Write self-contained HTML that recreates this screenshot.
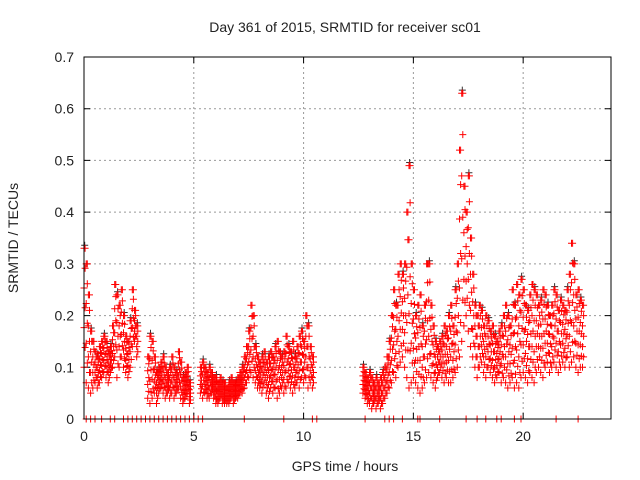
<!DOCTYPE html>
<html><head><meta charset="utf-8"><style>
body{margin:0;background:#fff}
svg{display:block;font-family:"Liberation Sans",sans-serif}
</style></head><body>
<svg id="chart" width="640" height="480" viewBox="0 0 640 480" xmlns="http://www.w3.org/2000/svg">
<text x="345" y="32" font-size="14" text-anchor="middle" fill="#222">Day 361 of 2015, SRMTID for receiver sc01</text>
<text x="345" y="471" font-size="14" text-anchor="middle" fill="#222">GPS time / hours</text>
<text transform="translate(18,238) rotate(-90)" font-size="14" text-anchor="middle" fill="#222">SRMTID / TECUs</text>
<g id="grid"></g>
<g id="ticks"></g>
<g id="marks"></g>
<rect x="84" y="57" width="527" height="362" fill="none" stroke="#000" stroke-width="1"/>
</svg>
<script>
const xTicks=[0,5,10,15,20];
const yTicks=[0,0.1,0.2,0.3,0.4,0.5,0.6,0.7];
const yTickLabels=["0","0.1","0.2","0.3","0.4","0.5","0.6","0.7"];
const seg1Start=0.0, seg2Start=12.7, step=0.1;
const hi1=[0.33,0.30,0.24,0.17,0.15,0.13,0.12,0.14,0.15,0.16,
0.15,0.13,0.14,0.18,0.26,0.24,0.22,0.25,0.20,0.16,
0.15,0.19,0.25,0.21,0.18,null,null,null,null,0.12,
0.16,0.15,0.12,0.09,0.10,0.11,0.12,0.10,0.09,0.10,
0.12,0.10,0.09,0.13,0.11,0.08,0.09,0.10,0.07,null,
null,null,null,0.10,0.11,0.10,0.09,0.10,0.09,0.08,
0.08,0.07,0.08,0.07,0.07,0.06,0.07,0.08,0.07,0.07,
0.08,0.09,0.10,0.12,0.14,0.17,0.22,0.20,0.14,0.12,
0.11,0.12,0.13,0.11,0.12,0.13,0.12,0.14,0.15,0.13,
0.12,0.13,0.16,0.14,0.13,0.15,0.12,0.14,0.16,0.17,
0.15,0.20,0.18,0.14,0.12];
const lo1=[0.10,0.07,0.06,0.05,0.06,0.07,0.06,0.07,0.08,0.09,
0.08,0.07,0.09,0.10,0.12,0.08,0.10,0.12,0.10,0.09,
0.08,0.10,0.14,0.15,0.12,null,null,null,null,0.04,
0.03,0.04,0.05,0.03,0.05,0.06,0.05,0.04,0.05,0.04,
0.05,0.04,0.05,0.06,0.04,0.03,0.04,0.05,0.03,null,
null,null,null,0.05,0.04,0.05,0.04,0.04,0.05,0.04,
0.03,0.03,0.04,0.03,0.03,0.03,0.03,0.04,0.03,0.04,
0.04,0.05,0.05,0.06,0.07,0.08,0.09,0.08,0.07,0.06,
0.06,0.05,0.07,0.05,0.04,0.06,0.05,0.06,0.04,0.05,
0.06,0.05,0.06,0.07,0.06,0.05,0.06,0.07,0.06,0.08,
0.07,0.08,0.06,0.07,0.06];
const hi2=[0.10,0.09,0.08,0.09,0.08,0.07,0.08,0.07,0.08,0.09,
0.10,0.12,0.15,0.20,0.25,0.22,0.28,0.30,0.28,0.30,
0.40,0.49,0.30,0.25,0.20,0.22,0.24,0.18,0.22,0.30,
0.30,0.22,0.18,0.15,0.14,0.15,0.16,0.18,0.17,0.20,
0.22,0.18,0.25,0.30,0.52,0.63,0.45,0.40,0.47,0.35,
0.28,0.22,0.20,0.22,0.21,0.18,0.20,0.19,0.17,0.18,
0.16,0.15,0.17,0.18,0.20,0.22,0.20,0.18,0.25,0.22,
0.26,0.24,0.27,0.25,0.22,0.21,0.24,0.26,0.25,0.24,
0.22,0.23,0.25,0.24,0.22,0.20,0.22,0.25,0.24,0.21,
0.23,0.22,0.21,0.25,0.28,0.34,0.30,0.24,0.25,0.23,0.22];
const lo2=[0.05,0.04,0.03,0.03,0.02,0.03,0.02,0.03,0.02,0.03,
0.04,0.05,0.06,0.07,0.09,0.08,0.10,0.11,0.12,0.10,
0.08,0.06,0.07,0.08,0.07,0.06,0.05,0.06,0.07,0.08,
0.09,0.08,0.07,0.06,0.08,0.09,0.08,0.07,0.08,0.07,
0.07,0.08,0.09,0.10,0.12,0.15,0.18,0.20,0.17,0.14,
0.12,0.10,0.08,0.10,0.11,0.09,0.08,0.10,0.09,0.08,
0.07,0.08,0.09,0.07,0.08,0.07,0.06,0.07,0.08,0.06,
0.07,0.06,0.08,0.09,0.08,0.07,0.09,0.08,0.07,0.09,
0.10,0.09,0.08,0.10,0.11,0.09,0.10,0.11,0.10,0.09,
0.10,0.11,0.10,0.12,0.10,0.11,0.12,0.10,0.09,0.10,0.10];
const zeroTimes=[0.1,0.3,0.5,0.8,1.2,1.4,1.8,2.0,2.2,2.4,2.6,2.8,3.0,3.2,3.4,3.6,3.8,4.0,4.2,4.4,4.6,4.8,5.0,5.2,5.4,7.3,9.1,10.4,10.6,12.8,13.7,13.9,14.1,14.5,15.2,15.3,16.2,17.4,17.9,18.3,18.8,19.0,19.6,19.9,21.5,22.5];

const L=84,R=611,T=57,B=419,XMAX=24,YMAX=0.7;
const xs=v=>L+v/XMAX*(R-L);
const ys=v=>B-v/YMAX*(B-T);
const NS="http://www.w3.org/2000/svg";
const grid=document.getElementById('grid'),ticks=document.getElementById('ticks'),marks=document.getElementById('marks');
function mk(tag,attrs,parent){const e=document.createElementNS(NS,tag);for(const k in attrs)e.setAttribute(k,attrs[k]);parent.appendChild(e);return e;}
xTicks.forEach(t=>{
  const x=xs(t);
  if(t>0){const g=mk('line',{x1:x,y1:T,x2:x,y2:B,stroke:'#999','stroke-dasharray':'2,3'},grid);
  
  }
  const tk=mk('path',{d:`M${x},${B}v-6M${x},${T}v6`,stroke:'#000'},ticks);
  
  
  const lb=mk('text',{x:x,y:B+22,'font-size':14,'text-anchor':'middle',fill:'#222'},ticks);
  lb.textContent=String(t);
  
  
});
yTicks.forEach((t,i)=>{
  const y=ys(t);
  if(t>0&&t<YMAX){const g=mk('line',{x1:L,y1:y,x2:R,y2:y,stroke:'#999','stroke-dasharray':'2,3'},grid);
  
  }
  const tk=mk('path',{d:`M${L},${y}h6M${R},${y}h-6`,stroke:'#000'},ticks);
  
  
  const lb=mk('text',{x:L-10,y:y+5,'font-size':14,'text-anchor':'end',fill:'#222'},ticks);
  lb.textContent=yTickLabels[i];
  
  
});
let dRed='',dBlack='';
function plus(t,v){const x=xs(t),y=ys(v);return `M${(x-3.5).toFixed(1)},${y.toFixed(1)}h7M${x.toFixed(1)},${(y-3.5).toFixed(1)}v7`;}
function seg(start,hi,lo){
  hi.forEach((h,i)=>{
    if(h===null)return;
    const l=lo[i];
    for(let k=0;k<2;k++){
      const t=start+i*step+k*step/2;
      const n=3;
      for(let j=0;j<=n;j++){
        const f=((j+k*0.5)%n)/n;
        const v=l+(h-l)*(j===n?1:f);
        dRed+=plus(t,v);
      }
    }
    if(i%3===0) dBlack+=plus(start+i*step+0.03,h+0.006);
  });
}
seg(seg1Start,hi1,lo1);
seg(seg2Start,hi2,lo2);
zeroTimes.forEach(t=>{dRed+=plus(t,0);});
const pb=mk('path',{d:dBlack,stroke:'#333','stroke-width':1,fill:'none'},marks);


const pr=mk('path',{d:dRed,stroke:'#ff0000','stroke-width':1,fill:'none'},marks);


</script>
</body></html>
